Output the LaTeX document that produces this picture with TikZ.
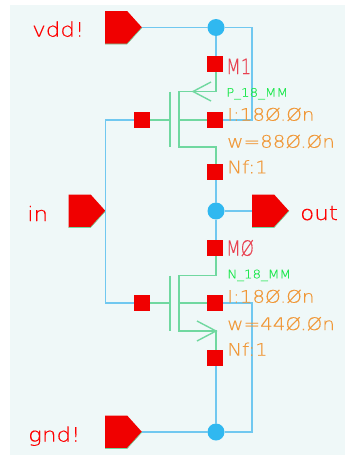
\documentclass[tikz,border=0pt]{standalone}
\usepackage{fontspec}
\setmainfont{DejaVu Sans}
\newfontfamily\cellfont[FakeStretch=1.15,FakeBold=0.4,UprightFont={* ExtraLight}]{DejaVu Sans}
\newfontfamily\instfont[FakeStretch=0.8,FakeBold=0.4,UprightFont={* ExtraLight}]{DejaVu Sans}
\usetikzlibrary{shapes.symbols}
\definecolor{schembg}{HTML}{EFF8F8}
\definecolor{pinred}{HTML}{F00000}
\definecolor{wireblue}{HTML}{70C8F0}
\definecolor{dotblue}{HTML}{30B8F0}
\definecolor{mosgreen}{HTML}{70D8A0}
\definecolor{paramorange}{HTML}{F09838}
\definecolor{modelgreen}{HTML}{20E850}
\definecolor{instred}{HTML}{E84050}
\begin{document}
\begin{tikzpicture}[x=1pt, y=-1pt]
        % Define styles
        \tikzstyle{pin}=[signal, signal to=east, signal pointer angle=96, fill=pinred, inner sep=0pt, outer sep=0pt, minimum width=37pt, minimum height=33pt, anchor=east]
        \tikzstyle{pinedge}=[mosgreen, line width=0.6pt]
        \tikzstyle{term}=[rectangle, fill=pinred, inner sep=0pt, outer sep=0pt, minimum size=16pt]
        \tikzstyle{dot}=[circle, fill=dotblue, inner sep=0pt, outer sep=0pt, minimum size=17pt]
        \tikzstyle{wire}=[wireblue, line width=1.2pt]
        \tikzstyle{mos}=[mosgreen, line width=1.4pt]
        \tikzstyle{pinlabel}=[text=red, font=\fontsize{20}{20}\cellfont, inner sep=0pt, anchor=base west]
        \tikzstyle{inst}=[text=instred, font=\fontsize{21}{21}\instfont, inner sep=0pt, anchor=base west]
        \tikzstyle{param}=[text=paramorange, font=\fontsize{17.3}{17.3}\cellfont, inner sep=0pt, anchor=base west]
        \tikzstyle{model}=[text=modelgreen, font=\fontsize{11.7}{11.7}\cellfont, inner sep=0pt, anchor=base west]

        % Page
        \useasboundingbox (0,0) rectangle (345,455);
        \fill[schembg] (10,5) rectangle (345,455);

        % Pins
        \node[pin] (vdd) at (142,27.5) {};
        \node[pin] (gnd) at (142,432) {};
        \node[pin] (in) at (105.5,211) {};
        \node[pin] (out) at (289,211) {};
        \draw[pinedge] (vdd.south west) -- ++(22,0) -- (vdd.east);
        \draw[pinedge] (gnd.south west) -- ++(22,0) -- (gnd.east);
        \draw[pinedge] (in.south west) -- ++(22,0) -- (in.east);
        \draw[pinedge] (out.south west) -- ++(22,0) -- (out.east);

        % Nets
        \node[dot] (top) at (216,27.5) {};
        \node[dot] (mid) at (216,211) {};
        \node[dot] (bot) at (216,432) {};

        % M1 terminals
        \node[term] (psrc) at (215,64) {};
        \node[term] (pgate) at (142,120) {};
        \node[term] (pbulk) at (215,120) {};
        \node[term] (pdrn) at (215,172) {};

        % M0 terminals
        \node[term] (ndrn) at (215,248) {};
        \node[term] (ngate) at (142,303) {};
        \node[term] (nbulk) at (215,303) {};
        \node[term] (nsrc) at (215,358) {};

        % Corners
        \coordinate (vddcorner) at (252,27.5);
        \coordinate (pbulkcorner) at (252,120);
        \coordinate (gndcorner) at (252,432);
        \coordinate (nbulkcorner) at (252,303);
        \coordinate (ingate) at (105.5,120);
        \coordinate (ingaten) at (105.5,303);

        % M1 symbol
        \coordinate (pgline) at (170,120);
        \coordinate (pchan) at (179,120);
        \coordinate (pstop) at (179,91.5);
        \coordinate (pdbot) at (179,147);
        \coordinate (pscorner) at (216,91.5);
        \coordinate (pdcorner) at (216,147);
        \coordinate (ptip) at (193,91.5);
        \coordinate (parmup) at (211,82);
        \coordinate (parmdn) at (211,101);
        \draw[mos] (170,91.5) -- (170,147);
        \draw[mos] (pgate) -- (pgline);
        \draw[mos] (pchan) -- (pbulk);
        \draw[mos] (216,72) -- (pscorner) -- (pstop) -- (pdbot) -- (pdcorner) -- (216,164);
        \draw[mos] (parmup) -- (ptip) -- (parmdn);

        % M0 symbol
        \coordinate (ngline) at (170,303);
        \coordinate (nchan) at (179,303);
        \coordinate (ndtop) at (179,275.5);
        \coordinate (nsbot) at (179,331);
        \coordinate (ndcorner) at (216,275.5);
        \coordinate (nscorner) at (216,331);
        \coordinate (narmup) at (197,321);
        \coordinate (narmdn) at (197,341);
        \draw[mos] (170,275.5) -- (170,331);
        \draw[mos] (ngate) -- (ngline);
        \draw[mos] (nchan) -- (nbulk);
        \draw[mos] (216,256) -- (ndcorner) -- (ndtop) -- (nsbot) -- (nscorner) -- (216,350);
        \draw[mos] (narmup) -- (nscorner) -- (narmdn);

        % Wires
        \draw[wire] (vdd.east) -- (top);
        \draw[wire] (top) -- (vddcorner) -- (pbulkcorner) -- (pbulk);
        \draw[wire] (top) -- (216,56);
        \draw[wire] (216,180) -- (mid);
        \draw[wire] (mid) -- (out.west);
        \draw[wire] (mid) -- (216,240);
        \draw[wire] (216,366) -- (bot);
        \draw[wire] (gnd.east) -- (bot);
        \draw[wire] (bot) -- (gndcorner) -- (nbulkcorner) -- (nbulk);
        \draw[wire] (pgate) -- (ingate) -- (ingaten) -- (ngate);

        % Labels
        \node[pinlabel] (vddtext) at (32,36.7) {vdd!};
        \node[pinlabel] (gndtext) at (28,441.7) {gnd!};
        \node[pinlabel] (intext) at (27,221) {in};
        \node[pinlabel] (outtext) at (300,220) {out};
        \node[inst] (m1text) at (226,74) {M1};
        \node[inst] (m0text) at (226,255.7) {MØ};
        \node[model] (pmodel) at (226,96.7) {P\_18\_MM};
        \node[model] (nmodel) at (227,278.3) {N\_18\_MM};
        \node[param] (pl) at (227,120.7) {I:18Ø.Øn};
        \node[param] (pw) at (227,147.7) {w=88Ø.Øn};
        \node[param] (pnf) at (227,173.3) {Nf:1};
        \node[param] (nl) at (227,302.7) {I:18Ø.Øn};
        \node[param] (nw) at (227,330) {w=44Ø.Øn};
        \node[param] (nnf) at (227,355.7) {Nf:1};
\end{tikzpicture}
\end{document}
